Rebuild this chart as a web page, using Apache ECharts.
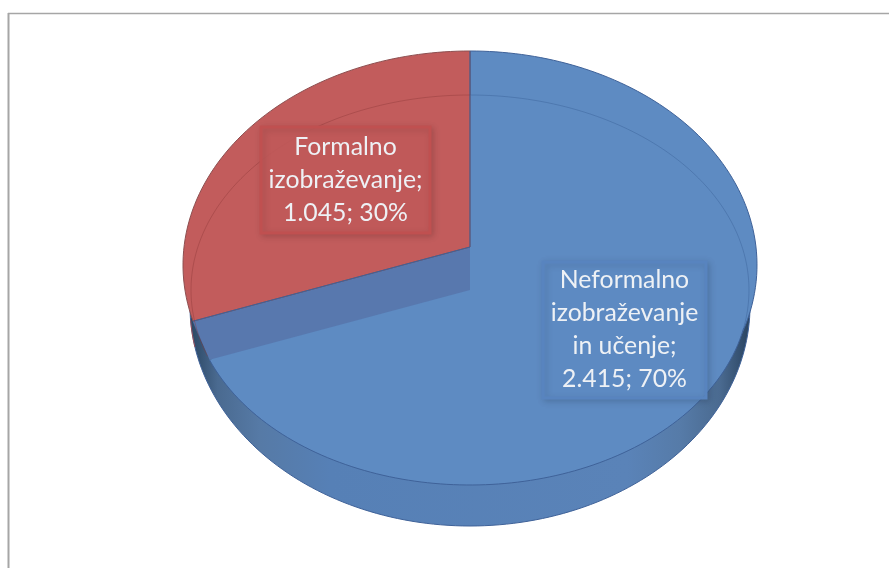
<!DOCTYPE html>
<html>
<head>
<meta charset="utf-8">
<style>html,body{margin:0;padding:0;background:#fff}#c{width:889px;height:568px}</style>
<script src="https://cdn.jsdelivr.net/npm/echarts@6/dist/echarts.min.js"></script>
</head>
<body>
<div id="c"></div>
<script>
const categories = ['Neformalno\nizobraževanje\nin učenje', 'Formalno\nizobraževanje'];
const values = [2415, 1045];
const faceColors = ['#5e8bc2', '#c25c5c'];
const edgeColors = ['#3f6299', '#8d4f50'];
const boxFills = ['rgba(94,140,197,0.88)', 'rgba(194,90,90,0.9)'];
const boxBorders = ['#5884bf', '#c05050'];

// Layout of the tilted pie
const cx = 470;
const backApexY = 247, frontApexY = 290;
const rayTilt = 0.79;
const rim = {cy: 265, a: 287, b: 214};
const front = {cy: 290, a: 279, b: 195};
const wall = {cy: 306, a: 280, b: 220};
const labelBoxes = [
  {x: 543, y: 262, w: 163, h: 136},
  {x: 261, y: 127, w: 169, h: 106}
];

const total = values.reduce((s, v) => s + v, 0);
const rad = d => d * Math.PI / 180;

// Ray from an apex in direction deg, met with an ellipse
function rayPoint(el, apexY, deg) {
  const t = rad(deg);
  const dx = Math.sin(t), dy = -Math.cos(t) * rayTilt;
  const oy = apexY - el.cy;
  const a2 = el.a * el.a, b2 = el.b * el.b;
  const A = dx * dx / a2 + dy * dy / b2;
  const B = 2 * oy * dy / b2;
  const C = oy * oy / b2 - 1;
  const s = (-B + Math.sqrt(B * B - 4 * A * C)) / (2 * A);
  return [cx + s * dx, apexY + s * dy];
}
const rimPoint = deg => rayPoint(rim, backApexY, deg);
const frontPoint = deg => rayPoint(front, frontApexY, deg);
const wallPoint = deg => [cx + wall.a * Math.sin(rad(deg)), wall.cy - wall.b * Math.cos(rad(deg))];

function sweep(fn, from, to) {
  const n = Math.max(2, Math.ceil(Math.abs(to - from) / 1.5));
  const pts = [];
  for (let i = 0; i <= n; i++) pts.push(fn(from + (to - from) * i / n));
  return pts;
}
function formatValue(v) {
  return String(v).replace(/\B(?=(\d{3})+$)/g, '.');
}

function renderItem(params, api) {
  const i = params.dataIndex;
  const value = api.value(0);
  let from = 0;
  for (let k = 0; k < i; k++) from += values[k] / total * 360;
  const to = from + value / total * 360;
  const kids = [];

  if (i === 0) {
    // Side wall of the pie
    kids.push({
      type: 'polygon', shape: {points: sweep(wallPoint, 0, 358.5)},
      style: {
        fill: new echarts.graphic.LinearGradient(0, 0, 1, 0, [
          {offset: 0, color: '#2c4663'},
          {offset: 0.015, color: '#33506f'},
          {offset: 0.05, color: '#4a6a90'},
          {offset: 0.125, color: '#567aa6'},
          {offset: 0.25, color: '#5680b6'},
          {offset: 0.78, color: '#5a83b8'},
          {offset: 0.875, color: '#567ba8'},
          {offset: 0.946, color: '#4a6a90'},
          {offset: 0.99, color: '#2f4a68'},
          {offset: 1, color: '#2a4360'}
        ]),
        stroke: '#3f6299', lineWidth: 1
      }
    });
    kids.push({
      type: 'polygon',
      shape: {points: [[cx, backApexY]].concat(sweep(rimPoint, from, to))},
      style: {fill: faceColors[i], stroke: edgeColors[i], lineWidth: 1}
    });
    kids.push({
      type: 'polygon',
      shape: {points: [[cx, frontApexY]].concat(sweep(frontPoint, from, to))},
      style: {fill: faceColors[i]}
    });
    // Cut wall between the two slices
    kids.push({
      type: 'polygon',
      shape: {points: [[cx, backApexY], rimPoint(to), frontPoint(to), [cx, frontApexY]]},
      style: {fill: '#5878ae'}
    });
    kids.push({
      type: 'polyline', shape: {points: sweep(frontPoint, 100, to)},
      style: {fill: null, stroke: edgeColors[i], lineWidth: 1}
    });
    kids.push({
      type: 'polyline', shape: {points: sweep(frontPoint, 0, 100)},
      style: {fill: null, stroke: 'rgba(50,85,140,0.35)', lineWidth: 1}
    });
  } else {
    kids.push({
      type: 'polygon',
      shape: {points: [[cx, backApexY]].concat(sweep(rimPoint, from, to))},
      style: {fill: faceColors[i], stroke: edgeColors[i], lineWidth: 1}
    });
    kids.push({
      type: 'polyline', shape: {points: [[cx, backApexY], rimPoint(from)]},
      style: {fill: null, stroke: '#3f6299', lineWidth: 1}
    });
    kids.push({
      type: 'polyline', shape: {points: [[cx, backApexY], [cx, rimPoint(to)[1]]]},
      style: {fill: null, stroke: '#3f6299', lineWidth: 1}
    });
    kids.push({
      type: 'polyline', shape: {points: sweep(frontPoint, from + 1, to)},
      style: {fill: null, stroke: 'rgba(140,55,55,0.4)', lineWidth: 1}
    });
    // Sliver of the red slice's wall at the left edge
    kids.push({
      type: 'polyline', shape: {points: sweep(wallPoint, from + 8, from + 15)},
      style: {fill: null, stroke: 'rgba(170,70,70,0.8)', lineWidth: 1}
    });
  }

  const box = labelBoxes[i];
  kids.push({
    type: 'rect', shape: {x: box.x, y: box.y, width: box.w, height: box.h},
    style: {
      fill: boxFills[i], stroke: boxBorders[i], lineWidth: 3,
      shadowColor: 'rgba(0,0,0,0.15)', shadowBlur: 6, shadowOffsetX: 2, shadowOffsetY: 2
    }
  });
  const pct = Math.round(value / total * 100);
  kids.push({
    type: 'text',
    x: box.x + box.w / 2, y: box.y + box.h / 2,
    style: {
      text: api.value(1) + ';\n' + formatValue(value) + '; ' + pct + '%',
      font: '24.8px Lato', fill: '#eef1f5', lineHeight: 33,
      align: 'center', verticalAlign: 'middle'
    }
  });
  return {type: 'group', children: kids};
}

const chart = echarts.init(document.getElementById('c'), null, {renderer: 'canvas'});
chart.setOption({
  animation: false,
  backgroundColor: '#ffffff',
  graphic: [
    {type: 'line', shape: {x1: 8, y1: 13.5, x2: 889, y2: 13.5}, style: {stroke: '#a6a6a6', lineWidth: 1.5}},
    {type: 'line', shape: {x1: 8.5, y1: 13, x2: 8.5, y2: 568}, style: {stroke: '#a6a6a6', lineWidth: 2}}
  ],
  series: [{
    type: 'custom',
    coordinateSystem: 'none',
    renderItem: renderItem,
    silent: true,
    encode: {},
    dimensions: ['value', 'name'],
    data: values.map((v, i) => [v, categories[i]])
  }]
});
</script>
</body>
</html>
